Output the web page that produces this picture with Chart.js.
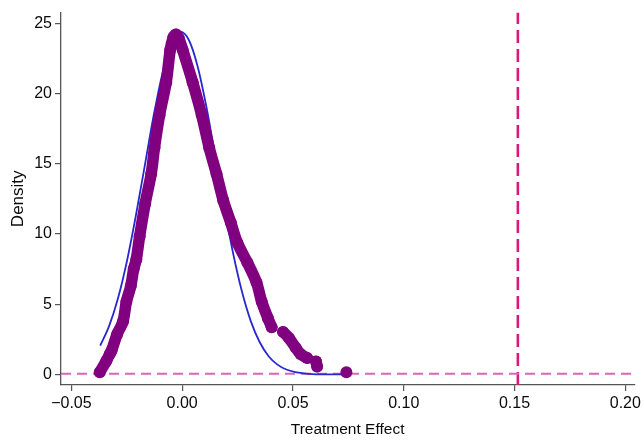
<!DOCTYPE html>
<html>
<head>
<meta charset="utf-8">
<script src="https://cdn.jsdelivr.net/npm/chart.js@4/dist/chart.umd.min.js"></script>
<style>
  html, body { margin: 0; padding: 0; background: #ffffff; }
  #wrap { width: 644px; height: 440px; }
</style>
</head>
<body>
<div id="wrap"><canvas id="c" width="644" height="440"></canvas></div>
<script>
// ---- Data ----
const xTicks = [-0.05, 0.00, 0.05, 0.10, 0.15, 0.20];
const yTicks = [0, 5, 10, 15, 20, 25];

// Kernel density points (purple markers); null marks a gap between marker chains
const densityX = [-0.0372, -0.0342, -0.0327, -0.0319, -0.0294, -0.0267, -0.0252, -0.0232, -0.0219, -0.0207,
                  -0.0192, -0.0167, -0.0140, -0.0125, -0.0102, -0.0072, -0.0054, -0.0040, -0.0028, -0.0015,
                  0.0002, 0.0047, 0.0088, 0.0122, 0.0155, 0.0185, 0.0220, 0.0249, 0.0294, 0.0335,
                  0.0359, 0.0387, 0.0404, 0.0430,
                  0.0455, 0.0481, 0.0512, 0.0534, 0.0564, 0.0585,
                  0.0604, 0.0609, 0.0650,
                  0.0741];
const densityY = [0.16, 0.98, 1.45, 1.68, 2.85, 3.78, 5.17, 6.30, 7.50, 8.20,
                  9.84, 12.17, 14.27, 16.13, 18.46, 20.80, 23.10, 24.00, 24.20, 23.90,
                  23.10, 20.80, 18.46, 16.13, 14.27, 12.40, 10.77, 9.37, 7.97, 6.57,
                  5.17, 4.00, 3.36, null,
                  3.03, 2.61, 1.91, 1.45, 1.17, null,
                  0.93, 0.56, null,
                  0.16];

// Normal density overlay (blue line)
const normalX = [-0.037, -0.033, -0.029, -0.025, -0.021, -0.017, -0.013, -0.009, -0.005, -0.001,
                 0.003, 0.007, 0.011, 0.015, 0.019, 0.023, 0.027, 0.031, 0.035, 0.039,
                 0.043, 0.047, 0.051, 0.055, 0.059, 0.063, 0.067, 0.071, 0.074];
const normalY = [2.05, 3.44, 5.40, 8.02, 11.22, 14.76, 18.32, 21.37, 23.54, 24.39,
                 23.80, 21.90, 18.98, 15.46, 11.90, 8.61, 5.88, 3.78, 2.29, 1.30,
                 0.70, 0.35, 0.17, 0.08, 0.03, 0.01, 0.00, 0.00, 0.00];

// Reference lines
const observedEffect = 0.1515;
const baselineDensity = 0.05;

const xMin = -0.0547, xMax = 0.204;
const yMin = -0.75, yMax = 25.75;

// ---- Build datasets ----
const densityPts = densityX.map((x, i) => ({ x: x, y: densityY[i] }));
const normalPts = normalX.map((x, i) => ({ x: x, y: normalY[i] }));

const FONT = "'Liberation Sans', Arial, Helvetica, sans-serif";
const PURPLE = 'rgb(128,0,128)';
const TEXT = '#0a0a0a';

const chart = new Chart(document.getElementById('c'), {
  type: 'scatter',
  data: {
    datasets: [
      {
        label: 'Density',
        data: densityPts,
        showLine: true,
        spanGaps: false,
        borderColor: PURPLE,
        borderWidth: 11.5,
        borderCapStyle: 'round',
        borderJoinStyle: 'round',
        backgroundColor: PURPLE,
        pointBackgroundColor: PURPLE,
        pointBorderWidth: 0,
        pointRadius: 6,
        tension: 0.3,
        order: 0
      },
      {
        label: 'Normal',
        data: normalPts,
        showLine: true,
        borderColor: 'rgb(40,40,210)',
        borderWidth: 1.8,
        pointRadius: 0,
        cubicInterpolationMode: 'monotone',
        order: 1
      },
      {
        label: 'baseline',
        data: [{ x: xMin, y: baselineDensity }, { x: xMax, y: baselineDensity }],
        showLine: true,
        borderColor: 'rgb(212,105,188)',
        borderWidth: 1.8,
        borderDash: [10, 6],
        pointRadius: 0,
        order: 2
      },
      {
        label: 'observed',
        data: [{ x: observedEffect, y: yMin }, { x: observedEffect, y: yMax }],
        showLine: true,
        borderColor: 'rgb(228,20,125)',
        borderWidth: 2.6,
        borderDash: [13, 6],
        pointRadius: 0,
        order: 2
      }
    ]
  },
  options: {
    responsive: false,
    animation: false,
    devicePixelRatio: 1,
    layout: { padding: { left: 0, top: 6, right: 7, bottom: 0 } },
    plugins: { legend: { display: false }, tooltip: { enabled: false } },
    scales: {
      x: {
        type: 'linear',
        min: xMin,
        max: xMax,
        afterBuildTicks: (s) => { s.ticks = xTicks.map(v => ({ value: v })); },
        afterFit: (s) => { s.height = 55; },
        grid: { drawOnChartArea: false, drawTicks: true, tickLength: 6, color: '#555', lineWidth: 1.2 },
        border: { display: true, color: '#555', width: 1.3 },
        ticks: {
          padding: 3,
          maxRotation: 0,
          autoSkip: false,
          color: TEXT,
          font: { family: FONT, size: 16 },
          callback: (v) => (v < 0 ? '\u2212' + Math.abs(v).toFixed(2) : v.toFixed(2))
        },
        title: {
          display: true,
          text: 'Treatment Effect',
          color: TEXT,
          font: { family: FONT, size: 15.5 },
          padding: { top: 0, bottom: 1 }
        }
      },
      y: {
        type: 'linear',
        min: yMin,
        max: yMax,
        afterBuildTicks: (s) => { s.ticks = yTicks.map(v => ({ value: v })); },
        afterFit: (s) => { s.width = 61; },
        grid: { drawOnChartArea: false, drawTicks: true, tickLength: 6, color: '#555', lineWidth: 1.2 },
        border: { display: true, color: '#555', width: 1.3 },
        ticks: {
          padding: 3,
          autoSkip: false,
          color: TEXT,
          font: { family: FONT, size: 16 },
          callback: (v) => String(v)
        },
        title: {
          display: true,
          text: 'Density',
          color: TEXT,
          font: { family: FONT, size: 17 },
          padding: { top: 8, bottom: 0 }
        }
      }
    }
  }
});
</script>
</body>
</html>
